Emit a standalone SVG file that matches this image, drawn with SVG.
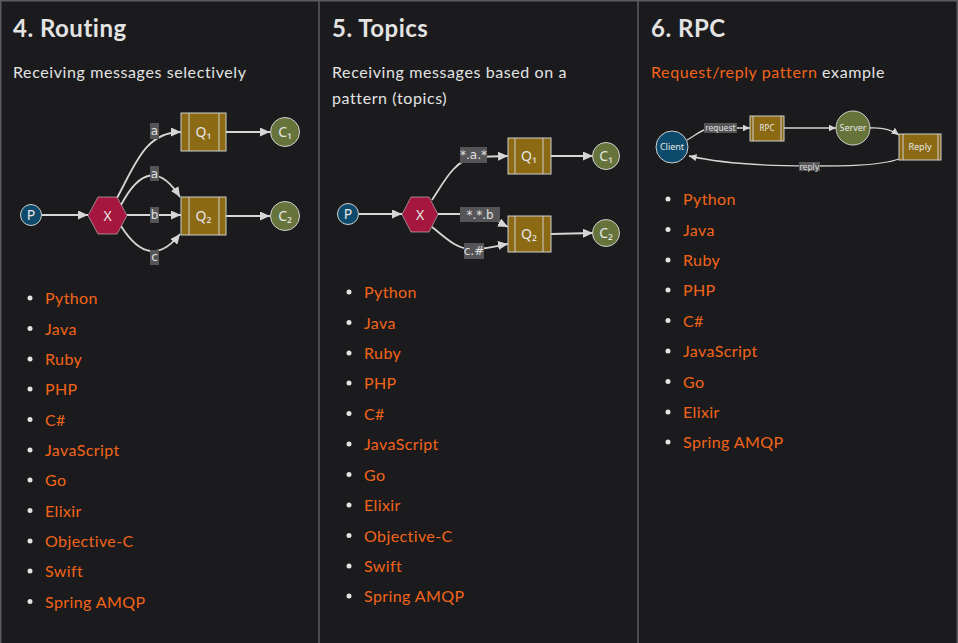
<svg xmlns="http://www.w3.org/2000/svg" width="958" height="643" viewBox="0 0 958 643">
<defs>
<style>
.bg{fill:#1b1b1d}
.frame{stroke:#5b5b60;stroke-width:1.5;fill:none}
.h{font-family:Lato,"Open Sans",sans-serif;font-weight:700;font-size:24px;letter-spacing:0.5px;fill:#e3e3e3}
.p{font-family:Lato,"Open Sans",sans-serif;font-size:16px;letter-spacing:0.6px;fill:#e3e3e3}
.li{font-family:Lato,"Open Sans",sans-serif;font-size:16px;letter-spacing:0.4px;fill:#f26419}
.bul{fill:#e3e3e3}
.edge{fill:none;stroke:#d6d6d6;stroke-width:1.8}
.edge3{fill:none;stroke:#d6d6d6;stroke-width:1.3}
.lbl{fill:#555557}
.lt{font-family:"DejaVu Sans",sans-serif;font-size:12px;fill:#e0e0e0;text-anchor:middle}
.lt3{font-family:"DejaVu Sans",sans-serif;font-size:8px;fill:#e0e0e0;text-anchor:middle}
.prod{fill:#0e4a6c;stroke:#cfcfcf;stroke-width:1}
.exch{fill:#a5173f;stroke:#cfcfcf;stroke-width:0.6}
.queue{fill:#8c6a14;stroke:#cfcfcf;stroke-width:1}
.qline{stroke:#cfcfcf;stroke-width:1}
.cons{fill:#66733a;stroke:#cfcfcf;stroke-width:1}
.nt{font-family:"Noto Sans","DejaVu Sans",sans-serif;font-size:14px;fill:#e6e6e6;text-anchor:middle}
.nt3{font-family:"Noto Sans","DejaVu Sans",sans-serif;font-size:9px;fill:#e6e6e6;text-anchor:middle}
</style>
<marker id="ah" markerWidth="11" markerHeight="9" refX="10" refY="4.5" orient="auto" markerUnits="userSpaceOnUse">
<path d="M0,0 L10,4.5 L0,9 Z" fill="#d6d6d6"/>
</marker>
<marker id="ah3" markerWidth="8" markerHeight="7" refX="7.5" refY="3.5" orient="auto" markerUnits="userSpaceOnUse">
<path d="M0,0 L7.5,3.5 L0,7 Z" fill="#d6d6d6"/>
</marker>
</defs>
<rect class="bg" x="0" y="0" width="958" height="643"/>
<path class="frame" d="M0.75,643 V0.75 H957.25 V643 M319,0 V643 M638,0 V643"/>

<g id="col-routing">
<text class="h" x="13" y="37">4. Routing</text>
<text class="p" x="13" y="78">Receiving messages selectively</text>
</g>
<g id="col-topics">
<text class="h" x="332" y="37">5. Topics</text>
<text class="p" x="332" y="78">Receiving messages based on a</text>
<text class="p" x="332" y="104">pattern (topics)</text>
</g>
<g id="col-rpc">
<text class="h" x="651" y="37">6. RPC</text>
<text class="p" x="651" y="78"><tspan class="li" style="letter-spacing:0.6px">Request/reply pattern</tspan> example</text>
</g>

<g id="connectors">
<!-- routing -->
<path class="edge" marker-end="url(#ah)" d="M42,215 L88,215"/>
<path class="edge" marker-end="url(#ah)" d="M117,198 C135,165 145,132 181,132"/>
<path class="edge" marker-end="url(#ah)" d="M121,205 Q150,150 180,197"/>
<path class="edge" marker-end="url(#ah)" d="M127,215 L181,215"/>
<path class="edge" marker-end="url(#ah)" d="M121,226 Q150,272 180,234"/>
<path class="edge" marker-end="url(#ah)" d="M226,132 L270,132"/>
<path class="edge" marker-end="url(#ah)" d="M226,216 L270,216"/>
<!-- topics -->
<path class="edge" marker-end="url(#ah)" d="M359,214 L402,214"/>
<path class="edge" marker-end="url(#ah)" d="M432,200 C445,180 455,160 475,157 L508,156"/>
<path class="edge" marker-end="url(#ah)" d="M438,214 L480,214 C492,215 498,222 508,227"/>
<path class="edge" marker-end="url(#ah)" d="M432,227 C445,237 455,248 470,249 C488,250 495,246 508,244"/>
<path class="edge" marker-end="url(#ah)" d="M551,156 L593,156"/>
<path class="edge" marker-end="url(#ah)" d="M551,234 L593,233"/>
<!-- rpc -->
<path class="edge3" marker-end="url(#ah3)" d="M687,140 C695,136 700,130 710,128 L750,128"/>
<path class="edge3" marker-end="url(#ah3)" d="M784,128 L836,128"/>
<path class="edge3" marker-end="url(#ah3)" d="M869,128 C882,127 892,130 899,135"/>
<path class="edge3" marker-end="url(#ah3)" d="M899,159 C880,166 840,166 810,166 C760,166 720,163 689,156"/>
<!-- labels -->
<rect class="lbl" x="150" y="123" width="9" height="16"/><text class="lt" x="154.5" y="135">a</text>
<rect class="lbl" x="150" y="166" width="9" height="15"/><text class="lt" x="154.5" y="178">a</text>
<rect class="lbl" x="150" y="207" width="9" height="16"/><text class="lt" x="154.5" y="219">b</text>
<rect class="lbl" x="150" y="250" width="9" height="15"/><text class="lt" x="154.5" y="261">c</text>
<rect class="lbl" x="460" y="147" width="27" height="16"/><text class="lt" x="473.5" y="159">*.a.*</text>
<rect class="lbl" x="460" y="207" width="40" height="15"/><text class="lt" x="480" y="219">*.*.b</text>
<rect class="lbl" x="464" y="243" width="20" height="16"/><text class="lt" x="474" y="255">c.#</text>
<rect class="lbl" x="704" y="123" width="33" height="10"/><text class="lt3" x="720.5" y="131">request</text>
<rect class="lbl" x="799" y="162" width="21" height="9"/><text class="lt3" x="809.5" y="169.5">reply</text>
</g>

<g id="routing-P"><circle class="prod" cx="31" cy="215" r="10.5"/><text class="nt" x="31" y="220">P</text></g>
<g id="routing-X"><polygon class="exch" points="88,215.5 98,197 117,197 127,215.5 117,234 98,234"/><text class="nt" x="107.5" y="220.5">X</text></g>
<g id="routing-Q1"><rect class="queue" x="181" y="113" width="45" height="38"/><line class="qline" x1="189" y1="113" x2="189" y2="151"/><line class="qline" x1="219" y1="113" x2="219" y2="151"/><text class="nt" x="203.5" y="137">Q₁</text></g>
<g id="routing-Q2"><rect class="queue" x="181" y="197" width="45" height="38"/><line class="qline" x1="189" y1="197" x2="189" y2="235"/><line class="qline" x1="219" y1="197" x2="219" y2="235"/><text class="nt" x="203.5" y="221">Q₂</text></g>
<g id="routing-C1"><circle class="cons" cx="285" cy="132" r="14.5"/><text class="nt" x="285" y="137">C₁</text></g>
<g id="routing-C2"><circle class="cons" cx="285" cy="216" r="14.5"/><text class="nt" x="285" y="221">C₂</text></g>

<g id="topics-P"><circle class="prod" cx="348" cy="214" r="10.5"/><text class="nt" x="348" y="219">P</text></g>
<g id="topics-X"><polygon class="exch" points="402,214.5 411,197 429,197 438,214.5 429,232 411,232"/><text class="nt" x="420" y="219.5">X</text></g>
<g id="topics-Q1"><rect class="queue" x="508" y="138" width="43" height="36"/><line class="qline" x1="515" y1="138" x2="515" y2="174"/><line class="qline" x1="543" y1="138" x2="543" y2="174"/><text class="nt" x="529" y="161">Q₁</text></g>
<g id="topics-Q2"><rect class="queue" x="508" y="216" width="43" height="36"/><line class="qline" x1="515" y1="216" x2="515" y2="252"/><line class="qline" x1="543" y1="216" x2="543" y2="252"/><text class="nt" x="529" y="239">Q₂</text></g>
<g id="topics-C1"><circle class="cons" cx="606" cy="156" r="13.5"/><text class="nt" x="606" y="161">C₁</text></g>
<g id="topics-C2"><circle class="cons" cx="606" cy="233" r="13.5"/><text class="nt" x="606" y="238">C₂</text></g>

<g id="rpc-Client"><circle class="prod" cx="672" cy="147" r="16"/><text class="nt3" x="672" y="150">Client</text></g>
<g id="rpc-RPC"><rect class="queue" x="750" y="116" width="34" height="25"/><line class="qline" x1="753" y1="116" x2="753" y2="141"/><line class="qline" x1="781" y1="116" x2="781" y2="141"/><text class="nt3" x="767" y="131" style="font-size:8px">RPC</text></g>
<g id="rpc-Server"><circle class="cons" cx="853" cy="128" r="17"/><text class="nt3" x="853" y="131">Server</text></g>
<g id="rpc-Reply"><rect class="queue" x="899" y="134" width="42" height="26"/><line class="qline" x1="903" y1="134" x2="903" y2="160"/><line class="qline" x1="938" y1="134" x2="938" y2="160"/><text class="nt3" x="920" y="150">Reply</text></g>

<g id="list-routing">
<circle class="bul" cx="30" cy="298" r="2.5"/><text class="li" x="45" y="304">Python</text>
<circle class="bul" cx="30" cy="328.5" r="2.5"/><text class="li" x="45" y="334.5">Java</text>
<circle class="bul" cx="30" cy="359" r="2.5"/><text class="li" x="45" y="365">Ruby</text>
<circle class="bul" cx="30" cy="389" r="2.5"/><text class="li" x="45" y="395">PHP</text>
<circle class="bul" cx="30" cy="419.5" r="2.5"/><text class="li" x="45" y="425.5">C#</text>
<circle class="bul" cx="30" cy="450" r="2.5"/><text class="li" x="45" y="456">JavaScript</text>
<circle class="bul" cx="30" cy="480" r="2.5"/><text class="li" x="45" y="486">Go</text>
<circle class="bul" cx="30" cy="510.5" r="2.5"/><text class="li" x="45" y="516.5">Elixir</text>
<circle class="bul" cx="30" cy="541" r="2.5"/><text class="li" x="45" y="547">Objective-C</text>
<circle class="bul" cx="30" cy="571" r="2.5"/><text class="li" x="45" y="577">Swift</text>
<circle class="bul" cx="30" cy="601.5" r="2.5"/><text class="li" x="45" y="607.5">Spring AMQP</text>
</g>
<g id="list-topics">
<circle class="bul" cx="349" cy="292" r="2.5"/><text class="li" x="364" y="298">Python</text>
<circle class="bul" cx="349" cy="322.5" r="2.5"/><text class="li" x="364" y="328.5">Java</text>
<circle class="bul" cx="349" cy="353" r="2.5"/><text class="li" x="364" y="359">Ruby</text>
<circle class="bul" cx="349" cy="383" r="2.5"/><text class="li" x="364" y="389">PHP</text>
<circle class="bul" cx="349" cy="413.5" r="2.5"/><text class="li" x="364" y="419.5">C#</text>
<circle class="bul" cx="349" cy="444" r="2.5"/><text class="li" x="364" y="450">JavaScript</text>
<circle class="bul" cx="349" cy="474.5" r="2.5"/><text class="li" x="364" y="480.5">Go</text>
<circle class="bul" cx="349" cy="505" r="2.5"/><text class="li" x="364" y="511">Elixir</text>
<circle class="bul" cx="349" cy="535.5" r="2.5"/><text class="li" x="364" y="541.5">Objective-C</text>
<circle class="bul" cx="349" cy="566" r="2.5"/><text class="li" x="364" y="572">Swift</text>
<circle class="bul" cx="349" cy="596" r="2.5"/><text class="li" x="364" y="602">Spring AMQP</text>
</g>
<g id="list-rpc">
<circle class="bul" cx="668" cy="199" r="2.5"/><text class="li" x="683" y="205">Python</text>
<circle class="bul" cx="668" cy="229.5" r="2.5"/><text class="li" x="683" y="235.5">Java</text>
<circle class="bul" cx="668" cy="260" r="2.5"/><text class="li" x="683" y="266">Ruby</text>
<circle class="bul" cx="668" cy="290" r="2.5"/><text class="li" x="683" y="296">PHP</text>
<circle class="bul" cx="668" cy="320.5" r="2.5"/><text class="li" x="683" y="326.5">C#</text>
<circle class="bul" cx="668" cy="351" r="2.5"/><text class="li" x="683" y="357">JavaScript</text>
<circle class="bul" cx="668" cy="381.5" r="2.5"/><text class="li" x="683" y="387.5">Go</text>
<circle class="bul" cx="668" cy="412" r="2.5"/><text class="li" x="683" y="418">Elixir</text>
<circle class="bul" cx="668" cy="442" r="2.5"/><text class="li" x="683" y="448">Spring AMQP</text>
</g>
</svg>
